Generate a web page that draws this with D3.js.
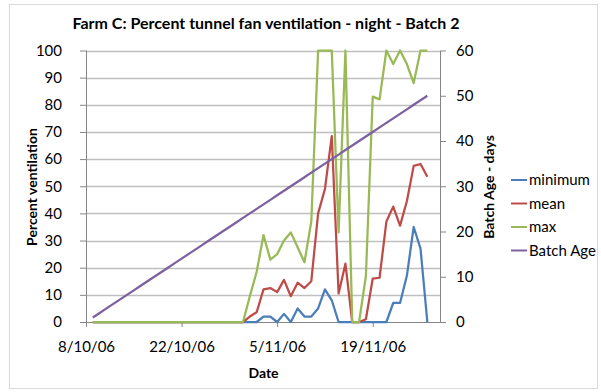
<!DOCTYPE html>
<html><head><meta charset="utf-8">
<script src="https://cdn.jsdelivr.net/npm/d3@7"></script>
<style>
html,body{margin:0;padding:0;background:#fff;}
svg{display:block;font-family:Lato,"Open Sans",sans-serif;}
</style></head>
<body>
<svg id="chart" width="601" height="392"></svg>
<script>
const title = "Farm C: Percent tunnel fan ventilation - night - Batch 2";
const firstDate = "2006-10-09";
const axisStart = "2006-10-08";
const axisEnd = "2006-11-29";
const xTickDates = ["2006-10-08","2006-10-22","2006-11-05","2006-11-19"];
const leftTicks = [0,10,20,30,40,50,60,70,80,90,100];
const rightTicks = [0,10,20,30,40,50,60];
const seriesNames = ["minimum","mean","max","Batch Age"];
const seriesColors = ["#4a7ebb","#be4b48","#98b954","#7d60a0"];

const minimum = [0,0,0,0,0,0,0,0,0,0,0,0,0,0,0,0,0,0,0,0,0,0,0,0,0,
  2,2,0,3,0,5,2,2,5,12,8,0,0,0,0,0,0,0,0,7,7,17,35,27,0];
const mean = [0,0,0,0,0,0,0,0,0,0,0,0,0,0,0,0,0,0,0,0,0,0,0,
  2,3.6,12,12.5,11,15.5,9.5,14.5,12.5,15,40,49,68.5,10.5,21.5,0,0,1,16,16.3,37,42.5,35.5,44.5,57.5,58.2,53.5];
const max = [0,0,0,0,0,0,0,0,0,0,0,0,0,0,0,0,0,0,0,0,0,0,0,
  9.5,18.5,32,23,25,30,33,27.5,22,37,100,100,100,33,100,0,0,17,83,82,100,95,100,95,88,100,100];
const batchAge = [1,2,3,4,5,6,7,8,9,10,11,12,13,14,15,16,17,18,19,20,21,22,23,24,25,
  26,27,28,29,30,31,32,33,34,35,36,37,38,39,40,41,42,43,44,45,46,47,48,49,50];

const parse = d3.timeParse("%Y-%m-%d");
const start = parse(firstDate);
const dates = d3.timeDay.range(start, d3.timeDay.offset(start, batchAge.length));

const svg = d3.select("#chart");
const L = 86, R = 441, T = 50.5, B = 322;

const x = d3.scaleTime().domain([parse(axisStart), parse(axisEnd)]).range([L, R]);
const yL = d3.scaleLinear().domain([0,100]).range([B, T]);
const yR = d3.scaleLinear().domain([0,60]).range([B, T]);

// outer border
svg.append("rect").attr("x",9.5).attr("y",4.5).attr("width",588).attr("height",384)
  .attr("fill","none").attr("stroke","#d9d9d9");

// gridlines
svg.append("g").selectAll("line").data(leftTicks.slice(1)).join("line")
  .attr("x1",L).attr("x2",R).attr("y1",d=>Math.round(yL(d))+0.5).attr("y2",d=>Math.round(yL(d))+0.5)
  .attr("stroke","#bfbfbf").attr("stroke-width",1.5);

const fmtX = d3.timeFormat("%-d/%-m/%y");

// x axis
const gx = svg.append("g").attr("transform",`translate(0,${B})`)
  .call(d3.axisBottom(x).tickValues(xTickDates.map(parse)).tickFormat(fmtX).tickSize(5).tickPadding(14));
gx.select(".domain").attr("d",`M${L},0.5H${R+5}`).attr("stroke","#868686");
gx.selectAll(".tick line").attr("stroke","#868686");
gx.selectAll("text").attr("font-size","15px").attr("fill","#000").attr("font-family","Lato");

// left axis
const gl = svg.append("g").attr("transform",`translate(${L},0)`)
  .call(d3.axisLeft(yL).tickValues(leftTicks).tickSize(6).tickPadding(18));
gl.select(".domain").attr("d",`M0.5,${T}V${B}`).attr("stroke","#868686");
gl.selectAll(".tick line").attr("stroke","#868686");
gl.selectAll("text").attr("font-size","15px").attr("fill","#000").attr("font-family","Lato");

// right axis
const gr = svg.append("g").attr("transform",`translate(${R},0)`)
  .call(d3.axisRight(yR).tickValues(rightTicks).tickSize(5).tickPadding(10));
gr.select(".domain").attr("d",`M-0.5,${T}V${B}`).attr("stroke","#868686");
gr.selectAll(".tick line").attr("stroke","#868686");
gr.selectAll("text").attr("font-size","15px").attr("fill","#000").attr("font-family","Lato");

// lines
svg.append("clipPath").attr("id","plotclip").append("rect")
  .attr("x",L).attr("y",T-2).attr("width",R-L).attr("height",B-T+4);
const lineL = d3.line().x((d,i)=>x(dates[i])).y(d=>yL(d));
const lineR = d3.line().x((d,i)=>x(dates[i])).y(d=>yR(d));
const series = [
  {v:minimum, f:lineL},{v:mean, f:lineL},{v:max, f:lineL},{v:batchAge, f:lineR}
];
series.forEach((s,k)=>{
  svg.append("path").attr("d",s.f(s.v)).attr("fill","none")
    .attr("stroke",seriesColors[k]).attr("stroke-width",2.25)
    .attr("stroke-linejoin","round").attr("clip-path","url(#plotclip)");
});

// title
svg.append("text").attr("x",266).attr("y",29).attr("text-anchor","middle")
  .attr("font-size","16px").attr("font-weight","bold").text(title);

// axis titles
svg.append("text").attr("x",263.5).attr("y",378).attr("text-anchor","middle")
  .attr("font-size","14px").attr("font-weight","bold").text("Date");
svg.append("text").attr("transform","translate(37,187) rotate(-90)").attr("text-anchor","middle")
  .attr("font-size","14px").attr("font-weight","bold").text("Percent ventilation");
svg.append("text").attr("transform","translate(494,187) rotate(-90)").attr("text-anchor","middle")
  .attr("font-size","14px").attr("font-weight","bold").text("Batch Age - days");

// legend
const lg = svg.append("g");
const rowsY = [180, 203.5, 227, 250.5];
seriesNames.forEach((n,k)=>{
  lg.append("line").attr("x1",511).attr("x2",527).attr("y1",rowsY[k]).attr("y2",rowsY[k])
    .attr("stroke",seriesColors[k]).attr("stroke-width",2);
  lg.append("text").attr("x",529).attr("y",rowsY[k]).attr("dy","0.35em")
    .attr("font-size","15px").text(n);
});
</script>
</body></html>
